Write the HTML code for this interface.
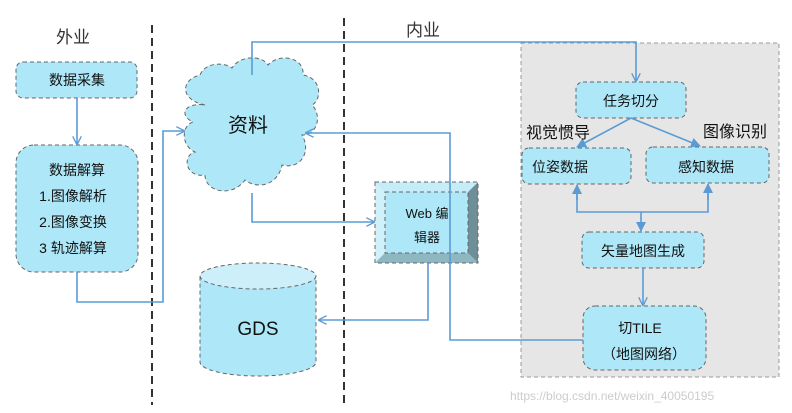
<!DOCTYPE html>
<html><head><meta charset="utf-8"><style>
body{margin:0;background:#fff;}
svg{display:block;font-family:"Liberation Sans","Noto Sans CJK SC",sans-serif;}
</style></head><body>
<svg width="792" height="413" viewBox="0 0 792 413" xmlns="http://www.w3.org/2000/svg">
<defs>
<marker id="a" viewBox="0 0 10 10" refX="9" refY="5" markerWidth="9" markerHeight="9" orient="auto" markerUnits="userSpaceOnUse"><path d="M0,0 L10,5 L0,10" fill="none" stroke="#5b9bd5" stroke-width="1.5"/></marker>
<marker id="f" viewBox="0 0 10 10" refX="9" refY="5" markerWidth="10" markerHeight="10" orient="auto" markerUnits="userSpaceOnUse"><path d="M0,0 L10,5 L0,10z" fill="#5b9bd5"/></marker>
</defs>
<rect x="521" y="43" width="258" height="334" fill="#e6e6e6" stroke="#999" stroke-dasharray="4,3"/>
<line x1="152" y1="25" x2="152" y2="405" stroke="#333" stroke-width="2" stroke-dasharray="8,5"/>
<line x1="344" y1="18" x2="344" y2="405" stroke="#333" stroke-width="2" stroke-dasharray="8,5"/>
<text x="56" y="43" font-size="17" fill="#333">外业</text>
<text x="406" y="36" font-size="17" fill="#333">内业</text>
<g fill="#aee8f8" stroke="#666" stroke-dasharray="4,3">
<rect x="16" y="62" width="121" height="36" rx="7"/>
<rect x="16" y="145" width="122" height="127" rx="18"/>
<rect x="576" y="82" width="110" height="36" rx="7"/>
<rect x="522" y="148" width="109" height="36" rx="7"/>
<rect x="646" y="147" width="123" height="36" rx="7"/>
<rect x="582" y="232" width="122" height="36" rx="7"/>
<rect x="583" y="306" width="123" height="64" rx="12"/>
<path d="M200,278 A58,14 0 0 1 316,278 V362 A58,14 0 0 1 200,362 Z"/>
<path d="M200,290 Q212,294 258,294 Q304,294 316,290" fill="none" stroke="none"/>
<path d="M205,105 C180,100 180,80 200,75 C205,62 225,62 232,68 C240,55 262,55 268,65 C280,52 305,58 303,75 C322,78 322,100 312,105 C322,115 318,135 302,135 C312,152 300,170 282,165 C278,185 258,190 245,180 C232,198 205,192 205,175 C185,178 182,155 195,152 C180,145 182,125 193,122 C178,115 185,102 205,105 Z"/>
<rect x="375" y="182" width="103" height="81"/>
</g>
<ellipse cx="258" cy="276" rx="58" ry="13" fill="#cdeff9" stroke="#666" stroke-dasharray="4,3"/>
<polygon points="375,182 385,192 385,253 375,263" fill="#d0f1fa"/>
<polygon points="478,182 468,192 468,253 478,263" fill="#6e8f98"/>
<polygon points="375,263 385,253 468,253 478,263" fill="#8fb7c2"/>
<polygon points="375,182 385,192 468,192 478,182" fill="#c5ecf7"/>
<rect x="375" y="182" width="103" height="81" fill="none" stroke="#666" stroke-dasharray="4,3"/>
<rect x="385" y="192" width="83" height="61" fill="none" stroke="#666" stroke-dasharray="4,3"/>
<g fill="none" stroke="#5b9bd5" stroke-width="1.6">
<line x1="77" y1="98" x2="77" y2="144" marker-end="url(#a)"/>
<polyline points="77,272 77,302 163,302 163,131 184,131" marker-end="url(#a)"/>
<polyline points="252,75 252,42 636,42 636,81" marker-end="url(#a)"/>
<polyline points="252,193 252,222 374,222" marker-end="url(#a)"/>
<polyline points="583,340 450,340 450,133 306,133" marker-end="url(#a)"/>
<polyline points="428,263 428,320 319,320" marker-end="url(#a)"/>
<line x1="631" y1="118" x2="577" y2="147" marker-end="url(#f)"/>
<line x1="631" y1="118" x2="700" y2="146" marker-end="url(#f)"/>
<polyline points="577,192 577,212 708,212 708,192"/>
<line x1="641" y1="212" x2="641" y2="231" marker-end="url(#f)"/>
<line x1="577" y1="200" x2="577" y2="185" marker-end="url(#f)"/>
<line x1="708" y1="200" x2="708" y2="184" marker-end="url(#f)"/>
<line x1="643" y1="268" x2="643" y2="305" marker-end="url(#a)"/>
</g>
<g font-size="14" fill="#111" text-anchor="middle">
<text x="77" y="85">数据采集</text>
<text x="77" y="175">数据解算</text>
<text x="73" y="201">1.图像解析</text>
<text x="73" y="227">2.图像变换</text>
<text x="73" y="253">3 轨迹解算</text>
<text x="631" y="106">任务切分</text>
<text x="560" y="172">位姿数据</text>
<text x="706" y="172">感知数据</text>
<text x="643" y="256">矢量地图生成</text>
<text x="640" y="333">切TILE</text>
<text x="644" y="359">（地图网络）</text>
<text x="427" y="218" font-size="13">Web 编</text>
<text x="427" y="242" font-size="13">辑器</text>
<text x="248" y="132" font-size="20">资料</text>
<text x="258" y="335" font-size="19">GDS</text>
</g>
<text x="526" y="138" font-size="16" fill="#111">视觉惯导</text>
<text x="703" y="137" font-size="16" fill="#111">图像识别</text>
<text x="510" y="400" font-size="12" fill="#ccc">https://blog.csdn.net/weixin_40050195</text>
</svg>
</body></html>
